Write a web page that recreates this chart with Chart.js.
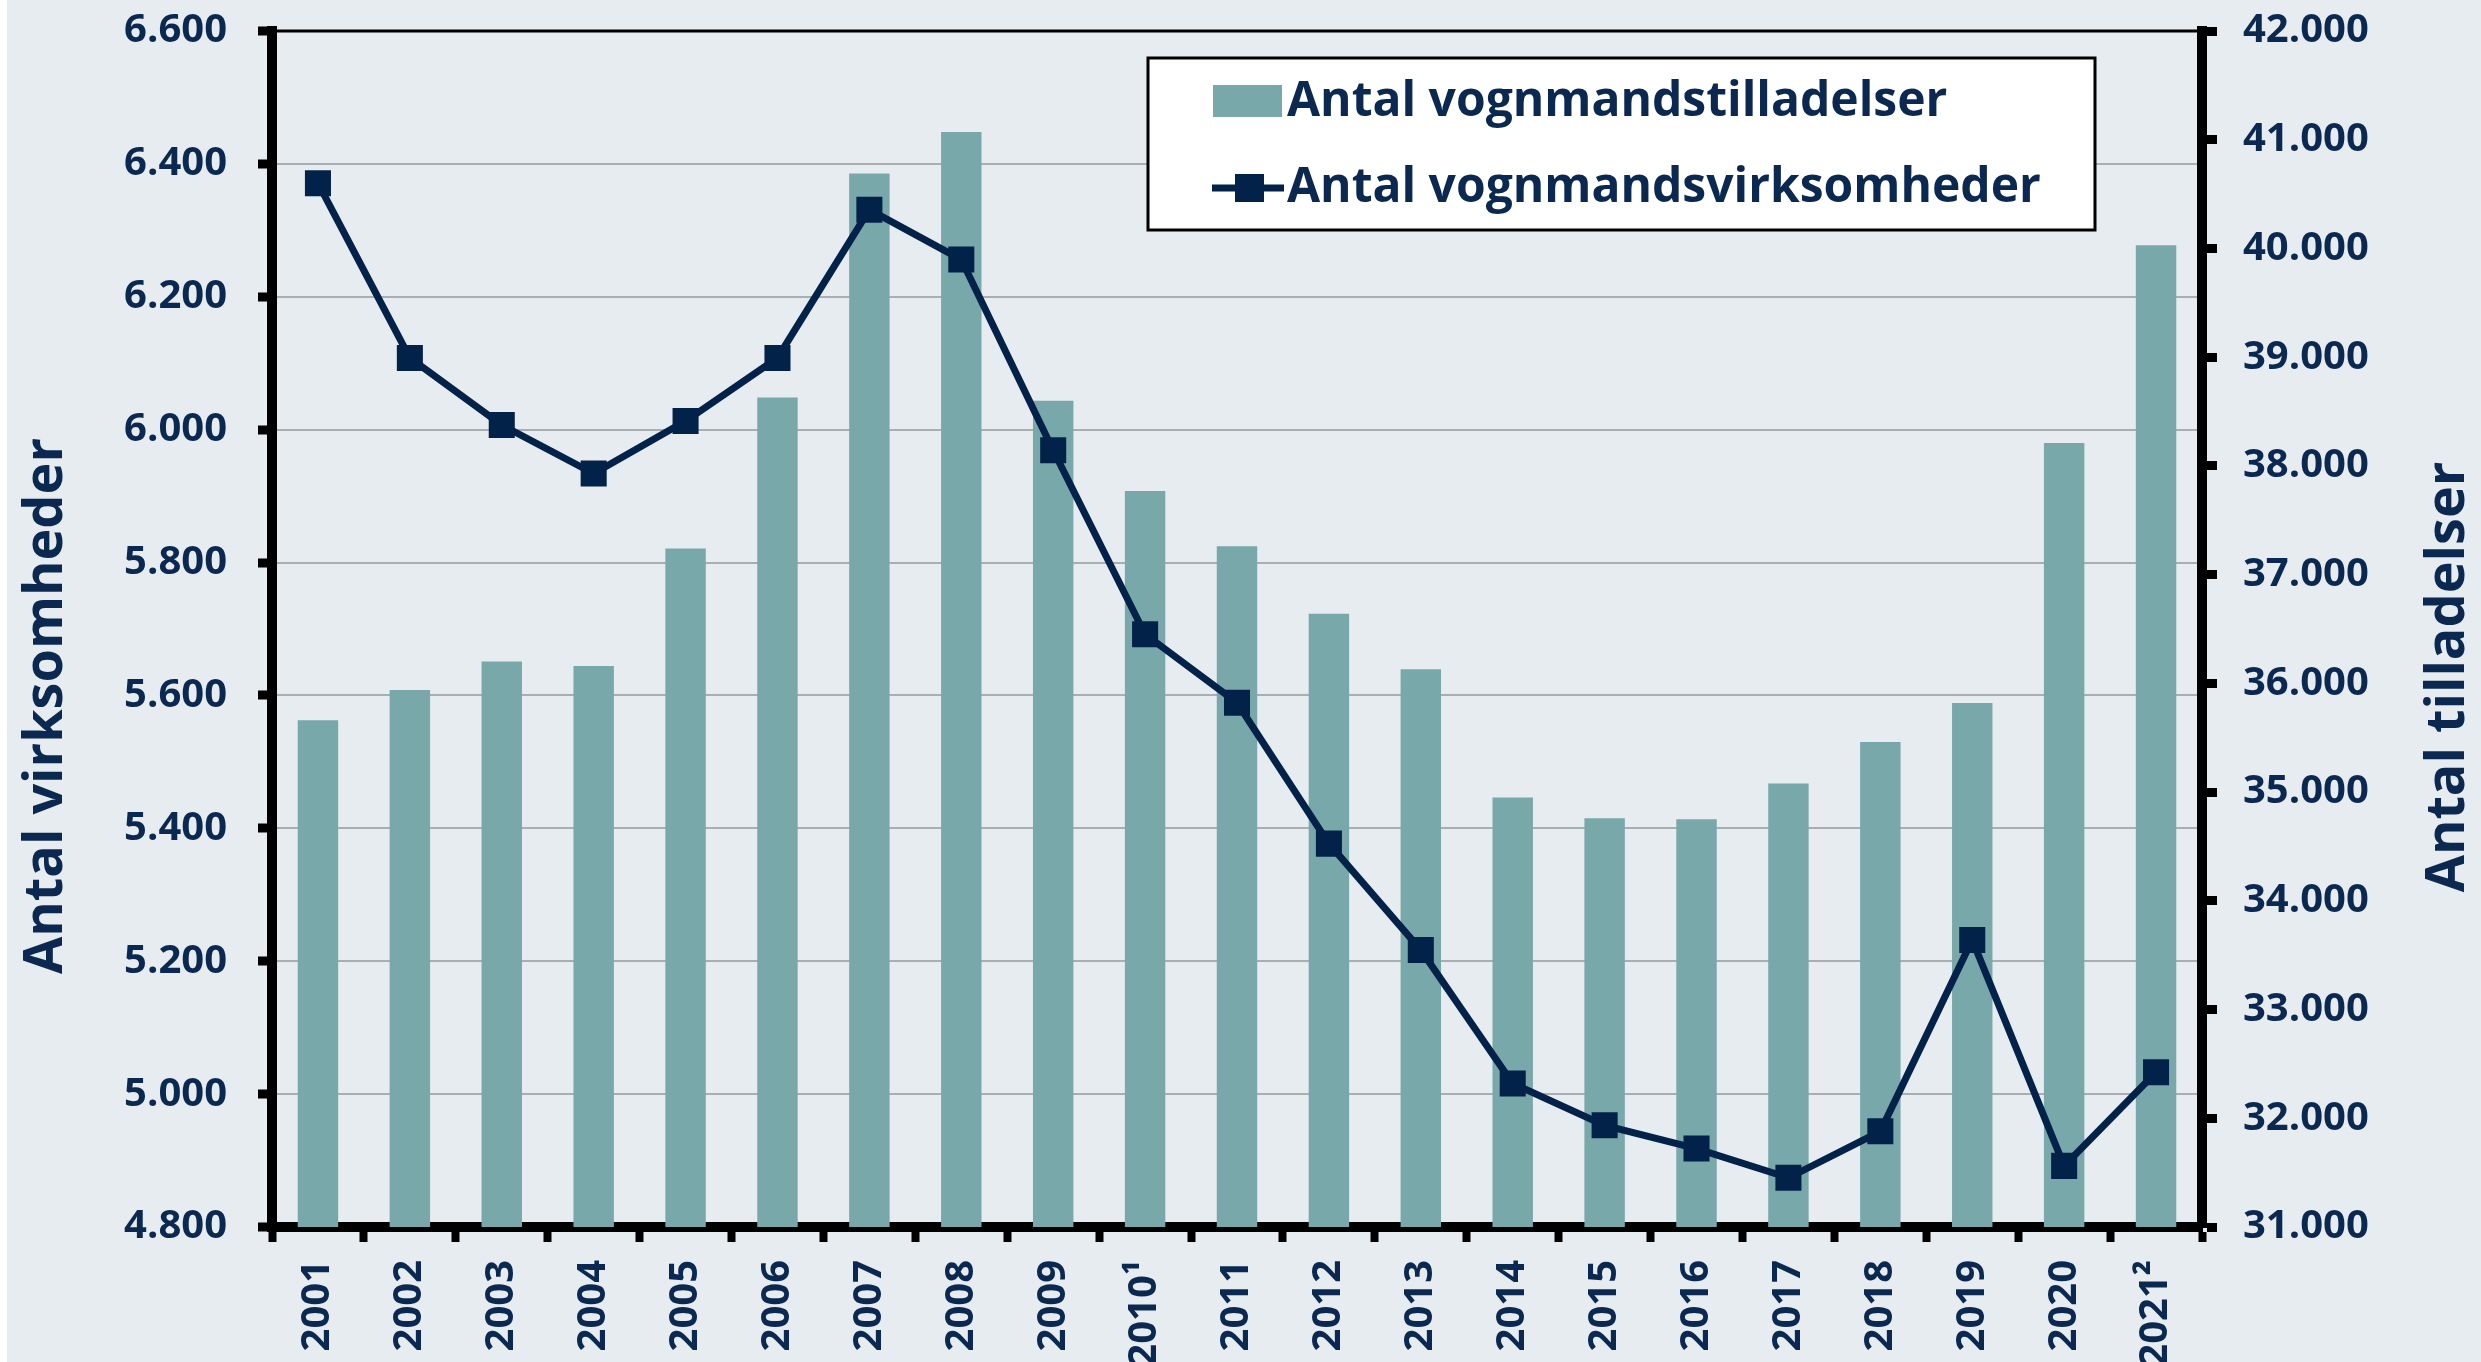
<!DOCTYPE html>
<html lang="da">
<head>
  <meta charset="UTF-8">
  <title>Vognmandstilladelser og vognmandsvirksomheder</title>
  <script src="https://cdn.jsdelivr.net/npm/chart.js@4"></script>
  <style>
    html, body { margin: 0; padding: 0; background: #fff; }
    #graf { display: block; }
  </style>
</head>
<body>
  <canvas id="graf" width="2481" height="1362"></canvas>

  <script>
    // Data
    const aar = ['2001', '2002', '2003', '2004', '2005', '2006', '2007', '2008', '2009', '2010\u00b9',
                 '2011', '2012', '2013', '2014', '2015', '2016', '2017', '2018', '2019', '2020', '2021\u00b2'];
    const virksomheder = [6371, 6108, 6007, 5934, 6013, 6108, 6331, 6256, 5969, 5692,
                          5589, 5377, 5217, 5016, 4953, 4918, 4874, 4944, 5232, 4892, 5033];
    const tilladelser = [35660, 35940, 36200, 36160, 37240, 38630, 40690, 41070, 38600, 37770,
                         37260, 36640, 36130, 34950, 34760, 34750, 35080, 35460, 35820, 38210, 40030];

    const venstreMin = 4800, venstreMax = 6600, venstreTrin = 200;
    const hoejreMin = 31000, hoejreMax = 42000, hoejreTrin = 1000;

    const navnBjaelker = 'Antal vognmandstilladelser';
    const navnLinje = 'Antal vognmandsvirksomheder';
    const titelVenstre = 'Antal virksomheder';
    const titelHoejre = 'Antal tilladelser';

    const navy = '#0a2850';
    const linjeFarve = '#032249';
    const bjaelkeFarve = '#79a8ab';
    const font = '"Open Sans", "DejaVu Sans", sans-serif';

    // dansk tusindtalsseparator
    function tal(v) {
      return String(v).replace(/\B(?=(\d{3})+(?!\d))/g, '.');
    }

    // y-akserne skal ikke skubbe plotområdet ned
    function fastBredde(b) {
      return function (s) {
        s.width = b;
        s.paddingTop = 0;
        s.paddingBottom = 0;
      };
    }

    const baggrund = {
      id: 'baggrund',
      beforeDraw(chart) {
        const ctx = chart.ctx;
        ctx.save();
        ctx.fillStyle = '#e6ecef';
        ctx.fillRect(0, 0, chart.width, chart.height);
        ctx.fillStyle = '#ffffff';
        ctx.fillRect(0, 0, 7, chart.height);
        ctx.restore();
      }
    };

    const pynt = {
      id: 'pynt',
      afterDraw(chart) {
        const { ctx, chartArea: a } = chart;
        ctx.save();

        // tynd ramme foroven
        ctx.strokeStyle = '#000';
        ctx.lineWidth = 3;
        ctx.beginPath();
        ctx.moveTo(a.left, a.top);
        ctx.lineTo(a.right, a.top);
        ctx.stroke();

        // aksetitler
        ctx.fillStyle = navy;
        ctx.font = 'bold 54px ' + font;
        ctx.textAlign = 'center';
        ctx.textBaseline = 'middle';
        ctx.save();
        ctx.translate(47, 706);
        ctx.rotate(-Math.PI / 2);
        ctx.fillText(titelVenstre, 0, 0);
        ctx.restore();
        ctx.save();
        ctx.translate(2449, 677);
        ctx.rotate(-Math.PI / 2);
        ctx.fillText(titelHoejre, 0, 0);
        ctx.restore();

        // forklaring
        ctx.fillStyle = '#fff';
        ctx.fillRect(1148, 58, 947, 172);
        ctx.strokeStyle = '#000';
        ctx.lineWidth = 3;
        ctx.strokeRect(1148, 58, 947, 172);

        ctx.fillStyle = bjaelkeFarve;
        ctx.fillRect(1213, 85, 69, 32);

        ctx.strokeStyle = linjeFarve;
        ctx.lineWidth = 7;
        ctx.beginPath();
        ctx.moveTo(1212, 188);
        ctx.lineTo(1284, 188);
        ctx.stroke();
        ctx.fillStyle = linjeFarve;
        ctx.fillRect(1235, 174, 29, 28);

        ctx.fillStyle = navy;
        ctx.font = 'bold 48px ' + font;
        ctx.textAlign = 'left';
        ctx.textBaseline = 'alphabetic';
        ctx.fillText(chart.data.datasets[1].label, 1287, 116);
        ctx.fillText(chart.data.datasets[0].label, 1287, 202);

        ctx.restore();
      }
    };

    function tegn() {
      const ctx = document.getElementById('graf').getContext('2d');
      new Chart(ctx, {
        type: 'bar',
        data: {
          labels: aar,
          datasets: [{
            type: 'line',
            label: navnLinje,
            data: virksomheder,
            yAxisID: 'y',
            order: 0,
            borderColor: linjeFarve,
            backgroundColor: linjeFarve,
            borderWidth: 7,
            pointStyle: 'rect',
            pointRadius: 17,
            pointBorderWidth: 2,
            pointBackgroundColor: linjeFarve,
            pointBorderColor: linjeFarve,
            tension: 0,
            fill: false
          }, {
            type: 'bar',
            label: navnBjaelker,
            data: tilladelser,
            yAxisID: 'y1',
            order: 1,
            backgroundColor: bjaelkeFarve,
            barPercentage: 0.44,
            categoryPercentage: 1.0
          }]
        },
        options: {
          responsive: false,
          devicePixelRatio: 1,
          animation: false,
          layout: { padding: { top: 31, left: 0, right: 0, bottom: 0 } },
          plugins: {
            legend: { display: false },
            tooltip: { enabled: false }
          },
          scales: {
            x: {
              offset: true,
              grid: {
                offset: true,
                drawOnChartArea: false,
                drawTicks: true,
                tickLength: 15,
                tickWidth: 8,
                tickColor: '#000',
                color: '#000'
              },
              border: { display: true, color: '#000', width: 10 },
              ticks: {
                autoSkip: false,
                minRotation: 90,
                maxRotation: 90,
                padding: 18,
                color: navy,
                font: { family: font, size: 40, weight: 'bold' }
              },
              afterFit(s) { s.height = 135; }
            },
            y: {
              position: 'left',
              min: venstreMin,
              max: venstreMax,
              grid: {
                color: '#a9aeb1',
                lineWidth: 2,
                tickColor: '#000',
                tickWidth: 9,
                tickLength: 14
              },
              border: { display: true, color: '#000', width: 10 },
              ticks: {
                stepSize: venstreTrin,
                padding: 31,
                color: navy,
                font: { family: font, size: 40, weight: 'bold' },
                callback: v => tal(v)
              },
              afterFit: fastBredde(272)
            },
            y1: {
              position: 'right',
              min: hoejreMin,
              max: hoejreMax,
              grid: {
                drawOnChartArea: false,
                tickColor: '#000',
                tickWidth: 9,
                tickLength: 15
              },
              border: { display: true, color: '#000', width: 10 },
              ticks: {
                stepSize: hoejreTrin,
                padding: 26,
                color: navy,
                font: { family: font, size: 40, weight: 'bold' },
                callback: v => tal(v)
              },
              afterFit: fastBredde(279)
            }
          }
        },
        plugins: [baggrund, pynt]
      });
    }

    document.fonts.load('bold 40px "Open Sans"').then(tegn, tegn);
  </script>
</body>
</html>
